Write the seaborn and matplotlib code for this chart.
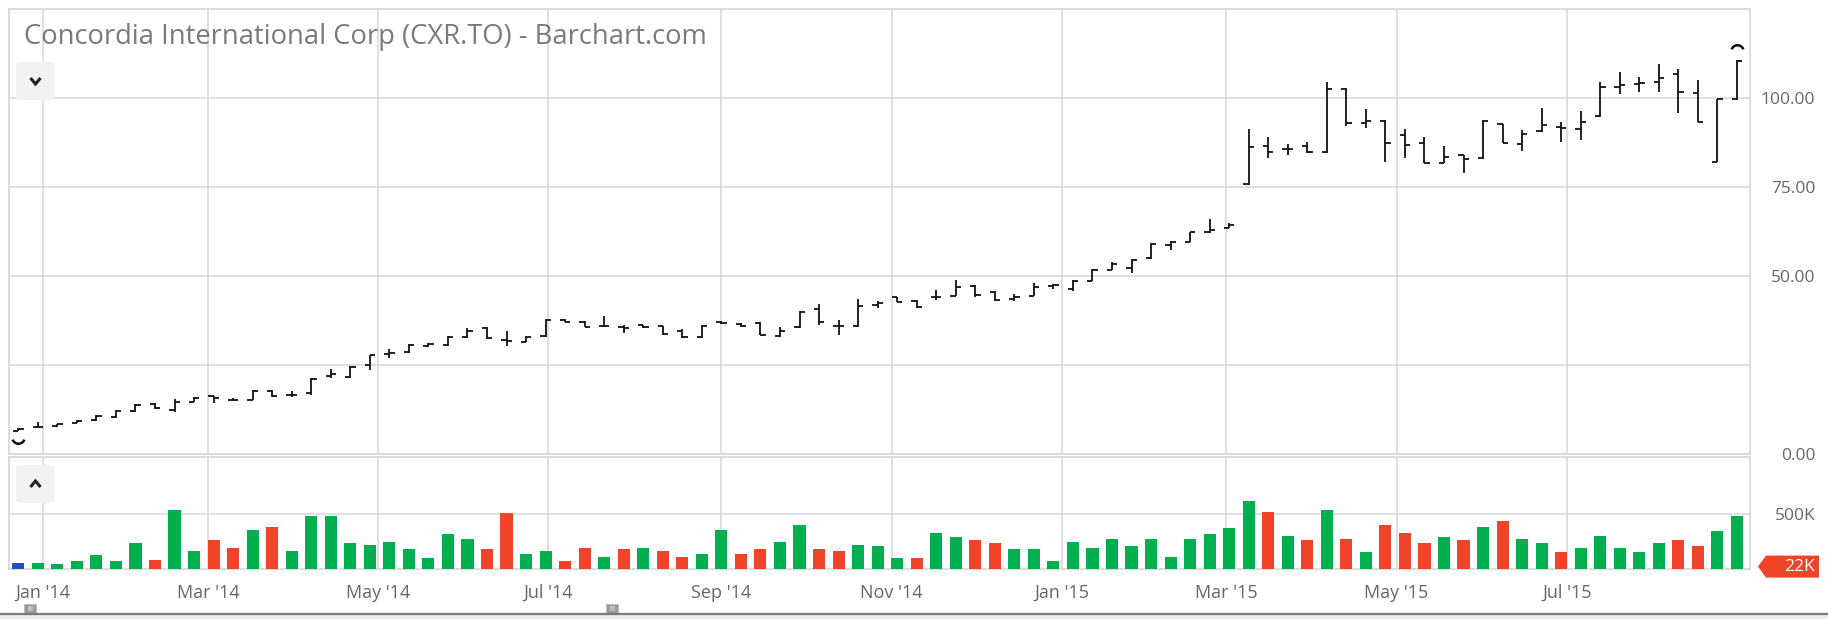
import numpy as np
import pandas as pd
import matplotlib
matplotlib.use("Agg")
import matplotlib.pyplot as plt
import matplotlib.path as mpath
import matplotlib.transforms as mtransforms
from matplotlib.patches import FancyBboxPatch, Polygon, Rectangle
from matplotlib.lines import Line2D
import seaborn as sns

TITLE = "Concordia International Corp (CXR.TO) - Barchart.com"
START = "2013-12-23"  # first weekly bar

opens = [6.4, 7.4, 7.7, 8.6, 9.4, 10.2, 11.9, 13.9, 12.2, 14.6, 16.1, 15.2, 15.2, 17.6, 16.5, 17.0,
         21.8, 21.4, 24.9, 28.0, 28.6, 30.3, 30.4, 32.7, 35.3, 32.0, 31.4, 33.1, 37.6, 37.1, 35.8,
         35.6, 36.1, 35.9, 34.4, 32.8, 37.0, 36.5, 36.8, 33.2, 35.5, 40.7, 35.9, 35.9, 41.7, 43.9,
         42.8, 44.0, 44.2, 47.2, 45.4, 43.5, 44.4, 47.1, 46.2, 48.6, 51.5, 52.2, 55.0, 58.6, 59.6,
         62.4, 63.5, 75.8, 86.5, 85.7, 86.5, 84.9, 102.5, 93.0, 93.5, 89.6, 87.4, 81.8, 84.0, 83.0,
         92.6, 87.1, 90.6, 91.8, 91.2, 94.9, 103.0, 104.0, 104.6, 106.7, 101.5, 82.1, 99.6]
highs = [7.2, 8.8, 8.4, 9.4, 10.9, 12.3, 14.0, 14.2, 15.3, 16.0, 16.2, 15.6, 17.8, 17.8, 17.5, 21.3,
         23.7, 24.5, 27.8, 29.4, 30.8, 31.0, 33.0, 35.2, 35.6, 34.6, 33.1, 37.9, 37.8, 37.3, 38.6,
         36.2, 36.2, 36.0, 35.0, 36.2, 37.3, 36.7, 36.9, 35.6, 40.0, 42.2, 37.7, 43.4, 43.0, 44.0,
         43.1, 46.0, 48.9, 47.5, 45.6, 44.9, 47.9, 47.7, 48.9, 52.0, 53.8, 54.6, 59.1, 59.8, 62.2,
         66.0, 64.8, 91.2, 89.1, 87.1, 87.7, 104.6, 102.7, 96.8, 93.8, 91.2, 89.1, 86.5, 84.0, 93.8,
         92.6, 91.0, 97.1, 93.3, 96.2, 104.6, 107.2, 106.0, 109.6, 108.1, 105.1, 99.6, 110.7]
lows = [6.3, 7.3, 7.6, 8.5, 9.3, 10.0, 11.8, 12.6, 11.7, 14.5, 14.2, 14.8, 15.1, 16.0, 16.0, 16.5,
        21.2, 21.2, 23.4, 26.9, 28.3, 30.0, 30.3, 32.5, 32.3, 30.3, 31.3, 32.9, 36.9, 35.5, 35.7,
        34.0, 35.3, 33.4, 32.6, 32.6, 36.4, 35.7, 33.3, 32.9, 35.2, 36.1, 33.3, 35.7, 40.9, 42.6,
        40.8, 43.2, 44.2, 44.0, 43.0, 43.0, 44.3, 46.2, 45.8, 48.6, 51.5, 50.8, 54.6, 57.3, 59.5,
        62.0, 63.3, 75.5, 83.0, 84.0, 84.6, 84.6, 92.0, 91.5, 82.1, 83.0, 81.6, 81.6, 78.8, 82.7,
        87.2, 85.2, 90.5, 87.7, 88.2, 94.6, 101.1, 101.8, 101.6, 95.9, 93.3, 82.0, 99.5]
closes = [7.0, 7.6, 8.2, 9.3, 10.5, 12.0, 13.7, 12.7, 14.5, 15.7, 15.6, 15.2, 17.5, 16.2, 16.6, 21.0,
          22.3, 24.3, 27.6, 28.3, 30.6, 30.7, 32.8, 34.6, 32.4, 31.7, 32.9, 37.7, 37.0, 35.6, 35.9,
          35.2, 35.6, 33.6, 32.8, 36.0, 36.7, 35.8, 33.4, 34.5, 39.9, 37.0, 35.9, 41.6, 42.3, 42.7,
          41.1, 44.1, 46.7, 44.5, 43.2, 44.1, 46.8, 47.3, 48.4, 51.7, 53.3, 54.5, 58.8, 59.4, 62.2,
          63.0, 64.3, 86.1, 84.9, 85.7, 84.9, 102.5, 92.9, 93.4, 87.2, 86.8, 81.8, 83.5, 82.7, 93.5,
          87.4, 89.9, 92.4, 91.6, 93.3, 103.2, 103.5, 104.3, 105.5, 101.8, 93.3, 99.6, 110.5]
volumes_k = [52, 52, 42, 70, 124, 70, 233, 82, 533, 164, 261, 191, 355, 382, 164, 479, 479, 233, 218,
             245, 179, 97, 315, 273, 179, 506, 136, 164, 70, 191, 109,
             179, 191, 164, 109, 136, 355, 136, 179, 245, 397, 179, 164, 218, 206, 97, 97, 327, 288,
             261, 233, 179, 179, 70, 245, 191, 273, 206, 273, 109, 273, 315,
             370, 615, 518, 300, 261, 533, 273, 152, 397, 327, 233, 288, 261, 382, 436, 273, 233,
             152, 191, 300, 191, 152, 233, 261, 206, 342, 479]

month_ticks = ["2014-01-01", "2014-03-01", "2014-05-01", "2014-07-01", "2014-09-01",
               "2014-11-01", "2015-01-01", "2015-03-01", "2015-05-01", "2015-07-01"]
month_labels = ["Jan '14", "Mar '14", "May '14", "Jul '14", "Sep '14",
                "Nov '14", "Jan '15", "Mar '15", "May '15", "Jul '15"]
price_ticks = [0, 25, 50, 75, 100]
price_labels = ["0.00", "", "50.00", "75.00", "100.00"]
vol_ticks = [500000]
vol_labels = ["500K"]
last_vol = 22000
last_vol_label = "22K"

GREEN = "#00b04f"
RED = "#f0432a"
BLUE = "#2450b5"
GRID = "#d6d6d6"
TXT = "#666666"

sns.set_style("white")
plt.rcParams["font.family"] = ["Open Sans", "DejaVu Sans"]

W, H = 1828, 619
fig = plt.figure(figsize=(W / 100, H / 100), dpi=100)


def fx(px):
    return px / W


def fy(py):
    return 1 - py / H


L, R = 9, 1750
STEP = 19.53  # px per week
ax_p = fig.add_axes([fx(L), fy(453.6), fx(R - L), (453.6 - 9) / H])
ax_v = fig.add_axes([fx(L), fy(569), fx(R - L), (569 - 457) / H], sharex=ax_p)

n = len(closes)
x = np.arange(n)
o, h, l, c = map(np.array, (opens, highs, lows, closes))

# OHLC bars
ax_p.vlines(x, l, h, color="#111111", lw=1.3, zorder=3)
ax_p.hlines(o, x - 0.27, x, color="#111111", lw=1.3, zorder=3)
ax_p.hlines(c, x, x + 0.27, color="#111111", lw=1.3, zorder=3)

# little arc markers on first and last bar
bottom_arc = mpath.Path.arc(200, 340)
top_arc = mpath.Path.arc(20, 160)
ax_p.plot(x[0], l[0] - 1.7, marker=bottom_arc, ms=9, mfc="none", mec="#111111", mew=1.8, zorder=4)
ax_p.plot(x[-1], h[-1] + 2.4, marker=top_arc, ms=9, mfc="none", mec="#111111", mew=1.8, zorder=4)

# volume bars coloured by close vs previous close
moves = ["first"] + ["up" if c[i] >= c[i - 1] else "down" for i in range(1, n)]
df = pd.DataFrame({"week": x, "volume": np.array(volumes_k) * 1000, "move": moves})
sns.barplot(data=df, x="week", y="volume", hue="move", native_scale=True, dodge=False,
            palette={"first": BLUE, "up": GREEN, "down": RED}, width=0.62, saturation=1,
            errorbar=None, linewidth=0, legend=False, ax=ax_v, zorder=3)

# month gridlines
start = pd.Timestamp(START)
mpos = [(pd.Timestamp(m) - start).days / 7 for m in month_ticks]

for ax in (ax_p, ax_v):
    ax.set_xlim((L - 18.3) / STEP, (R - 18.3) / STEP)
    ax.set_xlabel("")
    ax.set_ylabel("")
    ax.grid(True, color=GRID, lw=1.1, zorder=0)
    ax.set_axisbelow(True)
    for s in ax.spines.values():
        s.set_color(GRID)
        s.set_linewidth(1.2)
    ax.yaxis.tick_right()

ax_p.set_xticks(mpos)
ax_p.tick_params(axis="x", labelbottom=False, length=0)
ax_v.set_xticks(mpos, month_labels)
ax_v.tick_params(axis="x", length=10, width=1.1, color=GRID, labelsize=13,
                 labelcolor=TXT, pad=1)

ax_p.set_ylim(0, 125)
ax_p.set_yticks(price_ticks, price_labels, ha="right")
ax_p.tick_params(axis="y", length=0, pad=47, labelsize=12.5, labelcolor=TXT)

ax_v.set_ylim(0, 1018000)
ax_v.set_yticks(vol_ticks, vol_labels, ha="right")
ax_v.tick_params(axis="y", length=0, pad=47, labelsize=12.5, labelcolor=TXT)

# last volume tag
tr = mtransforms.blended_transform_factory(ax_v.transAxes, ax_v.transData)
aw = R - L
tag = Polygon([((1758 - L) / aw, last_vol), ((1766 - L) / aw, last_vol + 100000),
               ((1819 - L) / aw, last_vol + 100000), ((1819 - L) / aw, last_vol - 100000),
               ((1766 - L) / aw, last_vol - 100000)],
              closed=True, transform=tr, fc=RED, ec="none", clip_on=False)
ax_v.add_patch(tag)
ax_v.text((1815 - L) / aw, last_vol, last_vol_label, transform=tr, ha="right", va="center",
          color="white", fontsize=12.5, clip_on=False)

# title
fig.text(fx(24), fy(37), TITLE, fontsize=19.7, color="#7a7a7a", va="center", ha="left")

# collapse buttons
for (bx, by, up) in [(16, 62, False), (16, 465, True)]:
    fig.add_artist(FancyBboxPatch((fx(bx), fy(by + 38)), fx(39), 38 / H,
                                  boxstyle="round,pad=0,rounding_size=0.004",
                                  transform=fig.transFigure, fc="#f2f2f2", ec="none"))
    cx, cy = bx + 19.5, by + 19
    d = -3 if up else 3
    fig.add_artist(Line2D([fx(cx - 5), fx(cx), fx(cx + 5)], [fy(cy - d), fy(cy + d), fy(cy - d)],
                          transform=fig.transFigure, color="#222222", lw=2.2,
                          solid_capstyle="butt", solid_joinstyle="miter"))

# bottom scroller strip
fig.add_artist(Rectangle((0, 0), 1, fy(615), transform=fig.transFigure, fc="#ececec", ec="none"))
fig.add_artist(Line2D([0, 1], [fy(614), fy(614)], transform=fig.transFigure, color="#7a7a7a", lw=1.6))
for hx in (24, 606):
    fig.add_artist(Rectangle((fx(hx), fy(614)), fx(12), 10 / H, transform=fig.transFigure,
                             fc="#9c9c9c", ec="#bdbdbd", lw=0.8))
    fig.text(fx(hx + 6), fy(609), "III", fontsize=5, color="white", ha="center", va="center",
             family="DejaVu Sans")

fig.savefig("out.png", dpi=100)
